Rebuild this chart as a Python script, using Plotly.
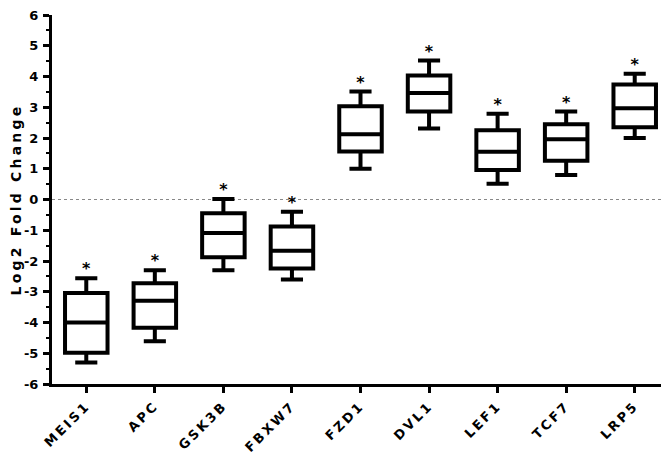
import plotly.graph_objects as go

genes = ["MEIS1", "APC", "GSK3B", "FBXW7", "FZD1", "DVL1", "LEF1", "TCF7", "LRP5"]
lower = [-5.3, -4.61, -2.3, -2.6, 1.0, 2.31, 0.51, 0.8, 2.0]
q1 = [-4.98, -4.17, -1.88, -2.24, 1.56, 2.86, 0.96, 1.26, 2.35]
median = [-4.0, -3.29, -1.09, -1.67, 2.12, 3.46, 1.55, 1.96, 2.97]
q3 = [-3.04, -2.72, -0.45, -0.88, 3.03, 4.03, 2.25, 2.45, 3.74]
upper = [-2.56, -2.3, 0.02, -0.4, 3.51, 4.52, 2.79, 2.86, 4.09]
signif = ["*"] * 9
yticks = list(range(-6, 7))

FONT = "DejaVu Sans"


def spaced(s, px):
    # prism-style wide lettering
    return f'<span style="letter-spacing:{px}px">{s}</span>'


fig = go.Figure()
fig.add_trace(go.Box(
    x=genes, q1=q1, median=median, q3=q3,
    lowerfence=lower, upperfence=upper,
    width=0.62, whiskerwidth=0.52,
    fillcolor="white", line=dict(color="black", width=4),
    showlegend=False, hoverinfo="skip",
))
fig.add_trace(go.Scatter(
    x=genes, y=upper, mode="text", text=signif,
    textposition="top center",
    textfont=dict(family=FONT, size=16, color="black", weight="bold"),
    showlegend=False, hoverinfo="skip", cliponaxis=False,
))

fig.add_shape(type="line", xref="paper", yref="y", x0=0, x1=1, y0=0, y1=0,
              line=dict(color="#888888", width=1, dash="dot"), layer="below")

fig.update_xaxes(
    range=[-0.5, 8.5], showline=True, linecolor="black", linewidth=3,
    ticks="outside", ticklen=6, tickwidth=3, tickcolor="black",
    tickvals=genes, ticktext=[spaced(g, 2.6) for g in genes],
    tickangle=-45, tickfont=dict(family=FONT, size=13, color="black", weight="bold"),
    showgrid=False, zeroline=False, automargin=False,
)
fig.update_yaxes(
    range=[-6, 6], tickvals=yticks, ticktext=[str(v) for v in yticks],
    showline=True, linecolor="black", linewidth=3,
    ticks="outside", ticklen=6, tickwidth=3, tickcolor="black",
    minor=dict(dtick=0.5, ticks="outside", ticklen=3, tickwidth=2, tickcolor="black"),
    tickfont=dict(family=FONT, size=13, color="black", weight="bold"),
    ticklabelstandoff=2, ticklabeloverflow="allow",
    title=dict(text=spaced("Log2 Fold Change", 3.2), standoff=15,
               font=dict(family=FONT, size=14, color="black", weight="bold")),
    showgrid=False, zeroline=False, automargin=False,
)
# page body adds an 8px offset, so the figure is sized to land where the original sits
fig.update_layout(
    width=661, height=453,
    margin=dict(l=44, r=0, t=7, b=77),
    plot_bgcolor="white", paper_bgcolor="white",
)
fig.write_html("out.html")
